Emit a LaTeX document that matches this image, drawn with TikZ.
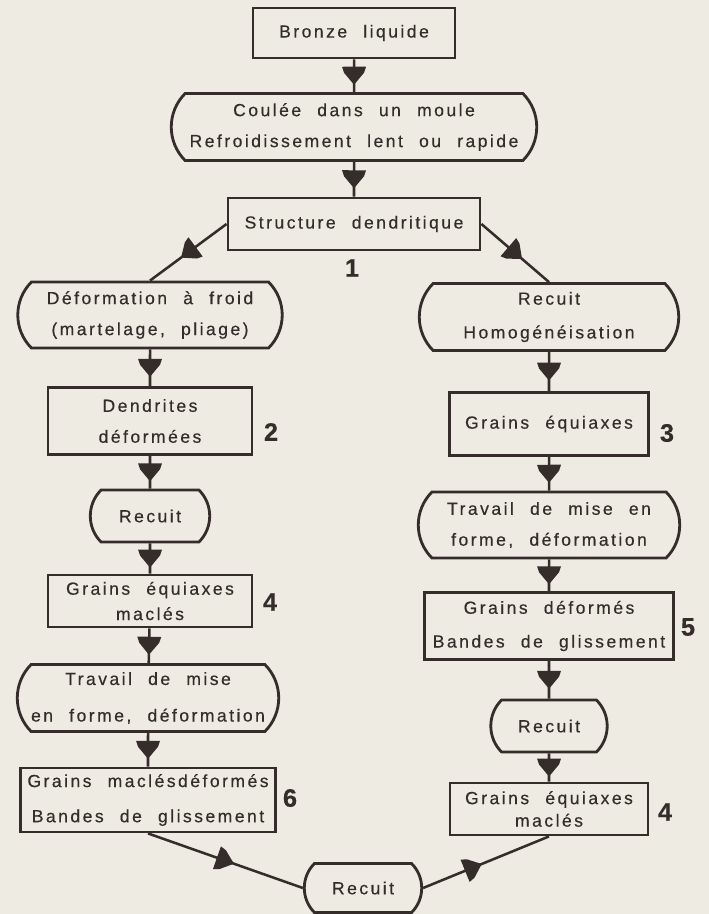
\documentclass[tikz,border=0pt]{standalone}
\usepackage{fontspec}
\setmainfont{Liberation Sans}[LetterSpace=14, WordSpace=2.2, FakeBold=0.4]
\usetikzlibrary{shapes.misc,decorations.markings}

\definecolor{paper}{RGB}{238,235,227}
\definecolor{ink}{RGB}{52,45,42}

\tikzset{
  box/.style={draw=ink, line width=2pt, text=ink, align=center, inner sep=2pt,
    font=\fontsize{12.5}{22}\selectfont},
  bulgebox/.style={box, rounded rectangle, rounded rectangle arc length=90},
  num/.style={text=ink, font=\fontsize{18}{18}\selectfont\bfseries},
  flow/.style={draw=ink, line width=1.8pt, postaction={decorate},
    decoration={markings, mark=at position #1 with
      {\fill[ink] (-9,-12) -- (-3,-10) -- (9,0) -- (-3,10) -- (-9,12) -- cycle;}}},
  flow/.default=0.5
}

\begin{document}
\begin{tikzpicture}[x=0.025cm, y=-0.025cm]
  \useasboundingbox (0,0) rectangle (709,914);
  \fill[paper] (0,0) rectangle (709,914);

  % Coulee
  \node[box, minimum width=5.05cm, minimum height=1.25cm] (bronze) at (354,33) {Bronze liquide};
  \node[bulgebox, minimum width=9.275cm, minimum height=1.675cm] (coulee) at (354,127)
    {Coulée dans un moule\\Refroidissement lent ou rapide};
  \node[box, minimum width=6.3cm, minimum height=1.3cm] (struct) at (354,224) {Structure dendritique};
  \node[num] (n1) at (352,268) {1};

  % Branche gauche
  \node[bulgebox, minimum width=6.75cm, minimum height=1.65cm] (froid) at (150,315)
    {Déformation à froid\\(martelage, pliage)};
  \node[box, minimum width=5.1cm, minimum height=1.675cm] (dendr) at (150,421) {Dendrites\\déformées};
  \node[num] (n2) at (271,432) {2};
  \node[bulgebox, minimum width=3.125cm, minimum height=1.3cm] (recuitg) at (150,516) {Recuit};
  \node[box, minimum width=5.1cm, minimum height=1.3cm] (equiaxg) at (150,601) {Grains équiaxes\\[-4pt]maclés};
  \node[num] (n4g) at (270,602) {4};
  \node[bulgebox, minimum width=6.675cm, minimum height=1.675cm] (travailg) at (148,698)
    {Travail de mise\\[4pt]en forme, déformation};
  \node[box, minimum width=6.375cm, minimum height=1.6cm] (macledef) at (148,800)
    {Grains maclésdéformés\\[3pt]Bandes de glissement};
  \node[num] (n6) at (290,798) {6};

  % Branche droite
  \node[bulgebox, minimum width=6.625cm, minimum height=1.675cm] (homog) at (549,317)
    {Recuit\\[2pt]Homogénéisation};
  \node[box, minimum width=4.975cm, minimum height=1.575cm] (equiax) at (549,424) {Grains équiaxes};
  \node[num] (n3) at (667,433) {3};
  \node[bulgebox, minimum width=6.675cm, minimum height=1.65cm] (travaild) at (549,525)
    {Travail de mise en\\forme, déformation};
  \node[box, minimum width=6.225cm, minimum height=1.675cm] (grdef) at (549,626)
    {Grains déformés\\[2pt]Bandes de glissement};
  \node[num] (n5) at (688,627) {5};
  \node[bulgebox, minimum width=3.05cm, minimum height=1.3cm] (recuitd) at (549,726) {Recuit};
  \node[box, minimum width=4.95cm, minimum height=1.3cm] (equiaxd) at (549,809) {Grains équiaxes\\[-6pt]maclés};
  \node[num] (n4d) at (665,812) {4};

  % Recuit final
  \node[bulgebox, minimum width=3.075cm, minimum height=1.225cm] (recuitb) at (363,888) {Recuit};

  % Fleches
  \draw[flow] (bronze) -- (coulee);
  \draw[flow] (coulee) -- (struct);
  \draw[flow] (struct.west) -- (froid.north);
  \draw[flow] (struct.east) -- (homog.north);
  \draw[flow] (froid) -- (dendr);
  \draw[flow] (dendr) -- (recuitg);
  \draw[flow] (recuitg) -- (equiaxg);
  \draw[flow] (equiaxg) -- (travailg);
  \draw[flow] (travailg) -- (macledef);
  \draw[flow] (homog) -- (equiax);
  \draw[flow] (equiax) -- (travaild);
  \draw[flow] (travaild) -- (grdef);
  \draw[flow] (grdef) -- (recuitd);
  \draw[flow] (recuitd) -- (equiaxd);
  \draw[flow] (macledef.south) -- (recuitb.west);
  \draw[flow=0.4] (recuitb.east) -- (equiaxd.south);
\end{tikzpicture}
\end{document}
